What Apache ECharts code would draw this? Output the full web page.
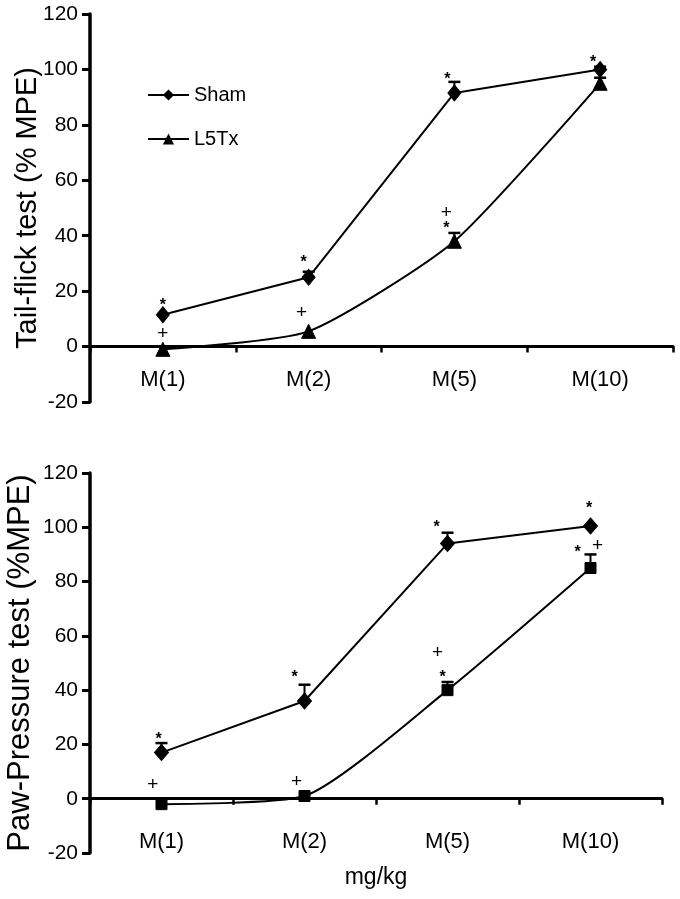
<!DOCTYPE html>
<html><head><meta charset="utf-8">
<script src="https://cdn.jsdelivr.net/npm/echarts@6/dist/echarts.min.js"></script>
<style>html,body{margin:0;padding:0;background:#fff}#c{width:680px;height:899px}</style>
</head><body><div id="c"></div>
<script>
// ---- data ----
const categories = ['M(1)', 'M(2)', 'M(5)', 'M(10)'];
const tailSham = [11.5, 25, 91.5, 100];
const tailL5Tx = [-1, 5.5, 38, 95];
const tailShamSem = [0, 2, 4, 1];
const tailL5TxSem = [0, 0, 3, 2];
const pawSham = [17, 36, 94, 100.5];
const pawL5Tx = [-2, 1, 40, 85];
const pawShamSem = [3.5, 6, 4, 0];
const pawL5TxSem = [0, 0, 3, 5];
// significance marks: [category position, value, symbol]
const tailMarks = [[0, 16.5, '*'], [0, 4.7, '+'], [0.966, 32, '*'], [0.952, 12.2, '+'],
  [1.952, 98.2, '*'], [1.945, 48.2, '+'], [1.945, 44.2, '*'], [2.952, 104.3, '*']];
const pawMarks = [[-0.02, 23.5, '*'], [-0.06, 5.1, '+'], [0.93, 46.6, '*'], [0.944, 6.2, '+'],
  [1.923, 101.7, '*'], [1.93, 53.6, '+'], [1.965, 46.6, '*'],
  [2.99, 108.6, '*'], [2.91, 92.5, '*'], [3.05, 93.2, '+']];
const yMin = -20, yMax = 120, yStep = 20;

// ---- chart ----
const FONT = 'Liberation Sans, Arial, sans-serif';
const chart = echarts.init(document.getElementById('c'), null, {renderer: 'canvas'});

function errSeries(vals, sem, idx) {
  return {
    type: 'custom', xAxisIndex: idx, yAxisIndex: idx, z: 3, silent: true,
    data: vals.map((v, i) => [i, v, sem[i]]),
    encode: {x: 0, y: 1},
    renderItem: function (params, api) {
      const i = api.value(0), v = api.value(1), s = api.value(2);
      if (!s) return null;
      const p0 = api.coord([i, v]);
      const p1 = api.coord([i, v + s]);
      return {type: 'group', children: [
        {type: 'line', shape: {x1: p0[0], y1: p0[1], x2: p1[0], y2: p1[1]}, style: {stroke: '#000', lineWidth: 2}},
        {type: 'line', shape: {x1: p1[0] - 6, y1: p1[1], x2: p1[0] + 6, y2: p1[1]}, style: {stroke: '#000', lineWidth: 2.5}}
      ]};
    }
  };
}
function markSeries(marks, idx) {
  return {
    type: 'custom', xAxisIndex: idx, yAxisIndex: idx, z: 5, silent: true,
    data: marks.map(m => [Math.round(m[0]), m[1]]),
    encode: {x: 0, y: 1},
    renderItem: function (params, api) {
      const m = marks[params.dataIndex];
      const base = Math.round(m[0]);
      const p = api.coord([base, m[1]]);
      const bw = api.size([1, 0])[0];
      const star = m[2] === '*';
      return {type: 'text', x: p[0] + (m[0] - base) * bw, y: p[1] + (star ? 5 : 0), style: {
        text: m[2], fill: '#000', fontFamily: FONT, fontSize: star ? 16 : 19,
        fontWeight: star ? 'bold' : 'normal',
        align: 'center', verticalAlign: 'middle'
      }};
    }
  };
}
function lineSeries(name, vals, idx, symbol, size, smooth) {
  return {
    name: name, type: 'line', xAxisIndex: idx, yAxisIndex: idx, data: vals,
    symbol: symbol, symbolSize: size, smooth: smooth, z: 4,
    lineStyle: {color: '#000', width: 2},
    itemStyle: {color: '#000', borderColor: '#000'},
    emphasis: {disabled: true}
  };
}
const xAxisBase = (idx, margin) => ({
  type: 'category', gridIndex: idx, data: categories, boundaryGap: true,
  axisLine: {onZero: true, lineStyle: {color: '#000', width: 3}},
  axisTick: {show: true, length: 6, lineStyle: {color: '#000', width: 2.5}},
  axisLabel: {color: '#000', fontFamily: FONT, fontSize: 22, margin: margin},
  splitLine: {show: false}
});
const yAxisBase = (idx, name, gap, fs) => ({
  type: 'value', gridIndex: idx, min: yMin, max: yMax, interval: yStep,
  axisLine: {show: true, onZero: false, lineStyle: {color: '#000', width: 3.5}},
  axisTick: {show: true, length: 8, lineStyle: {color: '#000', width: 3}},
  axisLabel: {color: '#000', fontFamily: FONT, fontSize: 21, margin: 12},
  splitLine: {show: false},
  name: name, nameLocation: 'middle', nameGap: gap, nameMoveOverlap: false,
  nameTextStyle: {color: '#000', fontFamily: FONT, fontSize: fs}
});

const option = {
  animation: false,
  backgroundColor: '#fff',
  grid: [
    {left: 90, top: 14, width: 583, height: 388, outerBoundsMode: 'none', containLabel: false},
    {left: 90, top: 473, width: 572, height: 380, outerBoundsMode: 'none', containLabel: false}
  ],
  legend: {
    data: ['Sham', 'L5Tx'], orient: 'vertical', left: 142, top: 80,
    itemWidth: 41, itemHeight: 14, itemGap: 24,
    textStyle: {color: '#000', fontFamily: FONT, fontSize: 20},
    selectedMode: false
  },
  xAxis: [
    xAxisBase(0, -33),
    Object.assign(xAxisBase(1, -22), {name: 'mg/kg', nameLocation: 'middle', nameGap: 13,
      nameTextStyle: {color: '#000', fontFamily: FONT, fontSize: 23}})
  ],
  yAxis: [
    yAxisBase(0, 'Tail-flick test (% MPE)', 48, 29),
    yAxisBase(1, 'Paw-Pressure test (%MPE)', 54, 31)
  ],
  series: [
    lineSeries('Sham', tailSham, 0, 'diamond', [13, 16], false),
    lineSeries('L5Tx', tailL5Tx, 0, 'triangle', 14, 0.2),
    errSeries(tailSham, tailShamSem, 0),
    errSeries(tailL5Tx, tailL5TxSem, 0),
    markSeries(tailMarks, 0),
    lineSeries('Sham (paw)', pawSham, 1, 'diamond', [14, 16], false),
    lineSeries('L5Tx (paw)', pawL5Tx, 1, 'rect', 11, 0.2),
    errSeries(pawSham, pawShamSem, 1),
    errSeries(pawL5Tx, pawL5TxSem, 1),
    markSeries(pawMarks, 1)
  ]
};
chart.setOption(option);
</script></body></html>
